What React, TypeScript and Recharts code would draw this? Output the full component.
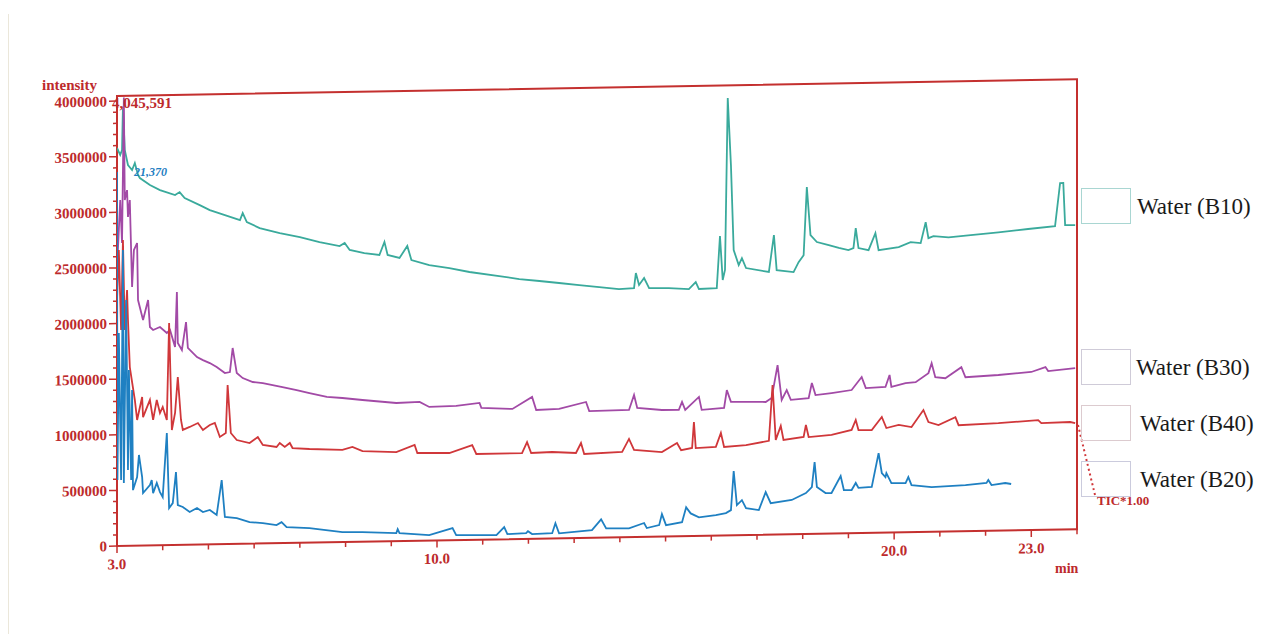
import React from "react";
import { LineChart, Line, XAxis, YAxis, ReferenceArea } from "recharts";

// ---- data (retention time in min, intensity) ----
const waterB10: [number, number][] = [
  [3.0, 3578000], [3.07, 3515000], [3.11, 3559000], [3.13, 3950000], [3.17, 3559000], [3.24, 3423000],
  [3.33, 3378000], [3.39, 3440000], [3.46, 3332000], [3.5, 3304000], [3.72, 3240000], [3.94, 3193000],
  [4.27, 3146000], [4.37, 3172000], [4.48, 3117000], [4.81, 3051000], [5.03, 3005000], [5.36, 2958000],
  [5.69, 2911000], [5.75, 2973000], [5.84, 2892000], [6.12, 2836000], [6.56, 2788000], [7.0, 2749000],
  [7.43, 2701000], [7.87, 2662000], [7.98, 2688000], [8.09, 2625000], [8.41, 2595000], [8.74, 2575000],
  [8.85, 2692000], [8.92, 2574000], [9.18, 2545000], [9.35, 2652000], [9.44, 2525000], [9.83, 2477000],
  [10.27, 2447000], [10.71, 2408000], [11.36, 2367000], [11.8, 2337000], [12.24, 2316000], [12.67, 2295000],
  [13.11, 2273000], [13.55, 2252000], [13.98, 2231000], [14.31, 2238000], [14.35, 2373000], [14.42, 2264000],
  [14.53, 2326000], [14.64, 2235000], [15.07, 2232000], [15.51, 2220000], [15.66, 2282000], [15.73, 2219000],
  [16.12, 2225000], [16.19, 2692000], [16.25, 2296000], [16.3, 2386000], [16.36, 3931000], [16.43, 3328000],
  [16.49, 2564000], [16.6, 2428000], [16.67, 2490000], [16.76, 2400000], [17.26, 2361000], [17.37, 2693000],
  [17.43, 2377000], [17.8, 2356000], [17.91, 2445000], [18.02, 2507000], [18.09, 3118000], [18.17, 2687000],
  [18.31, 2623000], [18.57, 2594000], [18.79, 2566000], [19.0, 2546000], [19.11, 2563000], [19.16, 2742000],
  [19.22, 2562000], [19.44, 2542000], [19.59, 2694000], [19.66, 2540000], [20.1, 2565000], [20.36, 2608000],
  [20.58, 2597000], [20.69, 2784000], [20.75, 2640000], [20.86, 2657000], [21.19, 2644000], [21.62, 2659000],
  [22.28, 2682000], [22.93, 2707000], [23.52, 2729000], [23.63, 3115000], [23.7, 3115000], [23.74, 2736000],
  [23.96, 2734000],
];

const waterB30: [number, number][] = [
  [3.0, 2454000], [3.02, 2661000], [3.07, 3110000], [3.11, 2724000], [3.15, 4030000], [3.17, 3109000],
  [3.22, 3198000], [3.24, 2956000], [3.28, 3108000], [3.33, 2326000], [3.37, 2658000], [3.44, 2721000],
  [3.46, 2208000], [3.57, 2028000], [3.68, 2206000], [3.72, 1964000], [3.79, 1936000], [3.94, 1962000],
  [4.09, 1907000], [4.16, 1934000], [4.27, 1780000], [4.31, 2274000], [4.33, 1815000], [4.42, 1752000],
  [4.51, 2003000], [4.55, 1770000], [4.75, 1686000], [4.88, 1658000], [5.03, 1630000], [5.18, 1593000],
  [5.36, 1538000], [5.47, 1546000], [5.53, 1762000], [5.62, 1536000], [5.75, 1490000], [5.97, 1453000],
  [6.19, 1442000], [6.62, 1403000], [6.93, 1374000], [7.21, 1345000], [7.59, 1307000], [7.93, 1295000],
  [8.37, 1274000], [9.11, 1242000], [9.62, 1248000], [9.83, 1201000], [10.42, 1206000], [10.93, 1229000],
  [10.97, 1184000], [11.65, 1170000], [12.08, 1275000], [12.17, 1157000], [12.67, 1163000], [13.26, 1221000],
  [13.33, 1139000], [14.2, 1143000], [14.31, 1276000], [14.38, 1159000], [14.92, 1137000], [15.29, 1135000],
  [15.36, 1206000], [15.43, 1134000], [15.73, 1249000], [15.79, 1132000], [16.28, 1146000], [16.34, 1306000],
  [16.43, 1199000], [17.19, 1193000], [17.32, 1227000], [17.45, 1523000], [17.54, 1209000], [17.65, 1297000],
  [17.74, 1208000], [18.13, 1221000], [18.2, 1356000], [18.28, 1247000], [18.63, 1263000], [19.07, 1287000],
  [19.29, 1402000], [19.38, 1302000], [19.81, 1309000], [19.9, 1416000], [19.94, 1308000], [20.25, 1341000],
  [20.47, 1348000], [20.75, 1427000], [20.82, 1516000], [20.9, 1389000], [21.12, 1378000], [21.47, 1475000],
  [21.56, 1384000], [22.28, 1399000], [23.0, 1421000], [23.31, 1463000], [23.37, 1426000], [23.96, 1449000],
];

const waterB40: [number, number][] = [
  [3.0, 2211000], [3.04, 2661000], [3.09, 1941000], [3.13, 2750000], [3.17, 1941000], [3.22, 2299000],
  [3.24, 2030000], [3.28, 1607000], [3.39, 1310000], [3.44, 1130000], [3.55, 1336000], [3.57, 1155000],
  [3.72, 1308000], [3.79, 1128000], [3.87, 1307000], [3.94, 1189000], [4.0, 1243000], [4.09, 1125000],
  [4.14, 1997000], [4.2, 1034000], [4.27, 1187000], [4.33, 1509000], [4.4, 1123000], [4.44, 1033000],
  [4.59, 1059000], [4.77, 1093000], [4.88, 1030000], [5.03, 1073000], [5.14, 1091000], [5.25, 964000],
  [5.38, 999000], [5.42, 1430000], [5.49, 998000], [5.62, 934000], [5.9, 905000], [6.08, 958000],
  [6.19, 885000], [6.49, 865000], [6.56, 900000], [6.67, 864000], [6.78, 899000], [6.84, 853000],
  [7.21, 842000], [7.93, 828000], [8.15, 853000], [8.37, 815000], [9.11, 801000], [9.51, 861000],
  [9.57, 789000], [10.27, 784000], [10.77, 852000], [10.86, 771000], [11.86, 772000], [11.97, 870000],
  [12.06, 771000], [12.52, 777000], [13.04, 764000], [13.15, 853000], [13.22, 754000], [14.05, 766000],
  [14.2, 882000], [14.31, 782000], [14.92, 759000], [15.25, 838000], [15.34, 773000], [15.58, 791000],
  [15.62, 1024000], [15.66, 790000], [16.1, 797000], [16.21, 922000], [16.28, 795000], [16.76, 809000],
  [17.26, 843000], [17.34, 1345000], [17.41, 851000], [17.52, 976000], [17.58, 849000], [18.02, 873000],
  [18.07, 980000], [18.13, 871000], [18.63, 886000], [19.07, 928000], [19.16, 1017000], [19.22, 926000],
  [19.51, 924000], [19.73, 1040000], [19.83, 940000], [20.1, 966000], [20.38, 945000], [20.64, 1096000],
  [20.75, 987000], [20.97, 958000], [21.34, 1027000], [21.41, 954000], [22.28, 966000], [23.15, 987000],
  [23.22, 959000], [23.85, 965000], [23.96, 955000],
];

const waterB20: [number, number][] = [
  [3.0, 3362000], [3.01, 593000], [3.04, 1915000], [3.09, 593000], [3.13, 2660000], [3.15, 565000],
  [3.2, 2210000], [3.24, 681000], [3.26, 1580000], [3.31, 591000], [3.33, 1400000], [3.35, 500000],
  [3.44, 617000], [3.48, 815000], [3.55, 616000], [3.57, 472000], [3.72, 543000], [3.76, 588000],
  [3.79, 470000], [3.87, 560000], [3.94, 478000], [4.0, 433000], [4.09, 1008000], [4.14, 333000],
  [4.22, 377000], [4.29, 656000], [4.33, 358000], [4.44, 340000], [4.59, 294000], [4.75, 329000],
  [4.88, 292000], [5.03, 309000], [5.18, 263000], [5.29, 577000], [5.36, 244000], [5.62, 232000],
  [5.9, 194000], [6.19, 183000], [6.49, 163000], [6.6, 189000], [6.71, 143000], [7.21, 131000],
  [7.93, 90000], [8.37, 86000], [9.11, 72000], [9.14, 107000], [9.18, 71000], [9.83, 49000],
  [10.34, 109000], [10.42, 45000], [11.3, 38000], [11.47, 109000], [11.54, 46000], [11.95, 51000],
  [11.99, 69000], [12.08, 42000], [12.52, 47000], [12.59, 136000], [12.67, 45000], [13.39, 68000],
  [13.59, 164000], [13.7, 82000], [14.2, 79000], [14.53, 124000], [14.59, 78000], [14.86, 103000],
  [14.92, 201000], [15.01, 101000], [15.36, 125000], [15.45, 258000], [15.55, 203000], [15.73, 166000],
  [16.1, 183000], [16.32, 200000], [16.43, 226000], [16.49, 577000], [16.56, 270000], [16.67, 314000],
  [16.76, 241000], [17.04, 222000], [17.19, 382000], [17.3, 282000], [17.76, 308000], [18.07, 368000],
  [18.2, 420000], [18.26, 645000], [18.31, 420000], [18.5, 365000], [18.63, 364000], [18.83, 515000],
  [18.9, 389000], [19.07, 388000], [19.16, 451000], [19.22, 406000], [19.51, 412000], [19.66, 716000],
  [19.73, 536000], [19.81, 499000], [19.83, 535000], [19.94, 444000], [20.25, 442000], [20.31, 495000],
  [20.38, 422000], [20.82, 401000], [21.56, 414000], [22.02, 430000], [22.06, 457000], [22.13, 411000],
  [22.43, 427000], [22.56, 417000],
];

const X_TICKS = [3, 4, 5, 6, 7, 8, 9, 10, 11, 12, 13, 14, 15, 16, 17, 18, 19, 20, 21, 22, 23, 24];
const X_LABELS: Record<number, string> = { 3: "3.0", 10: "10.0", 20: "20.0", 23: "23.0" };
const Y_MAJOR = [0, 500000, 1000000, 1500000, 2000000, 2500000, 3000000, 3500000, 4000000];
const Y_MINOR_STEP = 100000;
const Y_MAX = 4045591;

const LEGEND = [
  { name: "Water (B10)", top: 188, textLeft: 1137, border: "#a9d6d2" },
  { name: "Water (B30)", top: 349, textLeft: 1136, border: "#cfcbd8" },
  { name: "Water (B40)", top: 405, textLeft: 1140, border: "#dccbcf" },
  { name: "Water (B20)", top: 461, textLeft: 1140, border: "#cbcbdd" },
];

const RED = "#c4302f";
const LABEL_RED = "#bd2a2c";
const TEAL = "#3aaa9c";
const PURPLE = "#a24aa6";
const LINE_RED = "#d0373a";
const BLUE = "#1f80c2";
const LABEL_FONT = "'Liberation Serif', 'Times New Roman', serif";

const toPoints = (arr: [number, number][]) => arr.map(([t, v]) => ({ t, v }));

const yTicks: number[] = [];
for (let v = 0; v <= 4000000; v += Y_MINOR_STEP) yTicks.push(v);

const YTick = (props: any) => {
  const { x, y, payload } = props;
  const v = payload.value as number;
  const major = Y_MAJOR.includes(v);
  return (
    <g>
      <line x1={x - (major ? 8 : 4)} x2={x} y1={y} y2={y} stroke={RED} strokeWidth={1.5} />
      {major && (
        <text x={x - 10} y={y} dy="0.35em" textAnchor="end" fill={LABEL_RED}
          style={{ fontFamily: LABEL_FONT, fontWeight: 700, fontSize: 15 }}>
          {String(v)}
        </text>
      )}
    </g>
  );
};

const XTick = (props: any) => {
  const { x, y, payload } = props;
  const v = payload.value as number;
  const label = X_LABELS[v];
  return (
    <g>
      <line x1={x} x2={x} y1={y} y2={y + (label ? 7 : 5)} stroke={RED} strokeWidth={1.5} />
      {label && (
        <text x={x} y={y + 18} dy="0.35em" textAnchor="middle" fill={LABEL_RED}
          style={{ fontFamily: LABEL_FONT, fontWeight: 700, fontSize: 15 }}>
          {label}
        </text>
      )}
    </g>
  );
};

const abs = (left: number, top: number, extra: React.CSSProperties = {}): React.CSSProperties => ({
  position: "absolute", left, top, whiteSpace: "nowrap", lineHeight: 1, ...extra,
});

export default function App() {
  const series = [
    { key: "b10", data: toPoints(waterB10), color: TEAL },
    { key: "b30", data: toPoints(waterB30), color: PURPLE },
    { key: "b40", data: toPoints(waterB40), color: LINE_RED },
    { key: "b20", data: toPoints(waterB20), color: BLUE },
  ];
  const redText: React.CSSProperties = { fontFamily: LABEL_FONT, fontWeight: 700, color: LABEL_RED };
  return (
    <div style={{ position: "absolute", left: 0, top: 0, width: 1269, height: 636, background: "#fff", overflow: "hidden" }}>
      <div style={abs(8, 14, { width: 1, height: 620, background: "#ebe7da" })} />
      <div style={{ position: "absolute", left: 0, top: 0, width: 1269, height: 636, transform: "skewY(-1deg)", transformOrigin: "117px 546px" }}>
        <LineChart width={1269} height={636} margin={{ top: 96, right: 192, bottom: 60, left: 17 }}>
          <XAxis dataKey="t" type="number" domain={[3, 24]} ticks={X_TICKS} interval={0}
            allowDataOverflow axisLine={false} tickLine={false} tickSize={0} tickMargin={0}
            height={30} tick={<XTick />} />
          <YAxis type="number" domain={[0, Y_MAX]} ticks={yTicks} interval={0}
            allowDataOverflow axisLine={false} tickLine={false} tickSize={0} tickMargin={0}
            width={100} tick={<YTick />} />
          <ReferenceArea x1={3} x2={24} y1={0} y2={Y_MAX} fill="none" fillOpacity={0}
            stroke={RED} strokeWidth={2} />
          {series.map((s) => (
            <Line key={s.key} data={s.data} dataKey="v" type="linear" dot={false}
              stroke={s.color} strokeWidth={1.8} isAnimationActive={false} />
          ))}
        </LineChart>
      </div>

      <div style={abs(42, 78, { ...redText, fontSize: 15 })}>intensity</div>
      <div style={abs(112, 96, { ...redText, fontSize: 15 })}>4,045,591</div>
      <div style={abs(134, 166, { fontFamily: LABEL_FONT, fontWeight: 700, fontStyle: "italic", fontSize: 12, color: BLUE })}>21,370</div>
      <div style={abs(1055, 562, { ...redText, fontSize: 14 })}>min</div>
      <div style={abs(1097, 494, { ...redText, fontSize: 13 })}>TIC*1.00</div>
      <svg style={abs(1070, 415)} width={40} height={90}>
        <line x1={8} y1={10} x2={25} y2={80} stroke={LINE_RED} strokeWidth={2} strokeDasharray="2 3" />
      </svg>

      {LEGEND.map((l) => (
        <React.Fragment key={l.name}>
          <div style={abs(1081, l.top, { width: 48, height: 34, border: `1px solid ${l.border}`, boxSizing: "content-box" })} />
          <div style={abs(l.textLeft, l.top + 7, { fontFamily: LABEL_FONT, fontSize: 23, color: "#1a1a1a" })}>{l.name}</div>
        </React.Fragment>
      ))}
    </div>
  );
}
